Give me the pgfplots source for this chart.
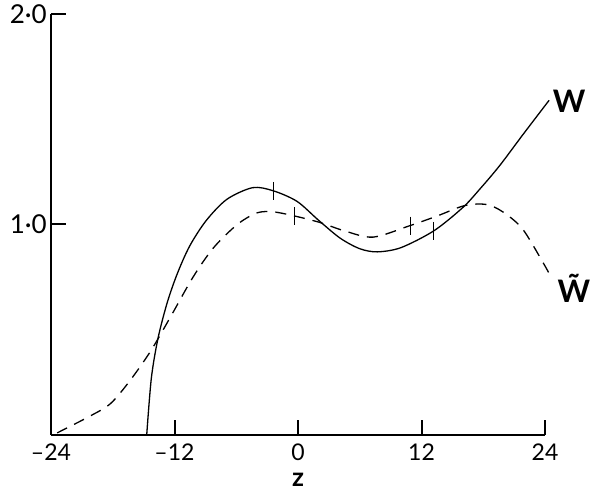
\documentclass[border=0pt]{standalone}
\usepackage{fontspec}
\setmainfont{Lato}
\usepackage{pgfplots}
\pgfplotsset{compat=1.18}
\begin{document}
\begin{tikzpicture}
\begin{axis}[
  at={(0,0)}, anchor=south west,
  scale only axis, width=494pt, height=421pt,
  xmin=-24, xmax=24, ymin=0, ymax=2,
  clip=false,
  axis x line=bottom, axis y line=left,
  axis line style={line width=2.2pt, -},
  xtick={-24,-12,0,12,24}, xticklabels={–24,–12,0,12,24},
  ytick={1,2}, yticklabels={1·0,2·0},
  tick align=inside,
  major tick length=15pt,
  tick style={line width=2pt, black},
  every tick label/.append style={inner sep=1pt},
  xticklabel style={font=\fontsize{23}{26}\selectfont, yshift=-8pt},
  yticklabel style={font=\fontsize{26}{30}\selectfont, xshift=-3pt},
]
% W flat part
\addplot[black, line width=1.3pt] coordinates {(-24,0) (-14.7,0)};
% W solid
\addplot[black, line width=1.3pt, smooth] coordinates {
(-14.7,0) (-14.25,0.27) (-13.6,0.46) (-12.7,0.63) (-11.7,0.77) (-10.5,0.90) (-8.9,1.02) (-6.9,1.12) (-4.4,1.175) (-2.4,1.16) (-0.1,1.11) (2.0,1.02) (4.1,0.935) (6.0,0.885) (7.7,0.87) (10.0,0.89) (13.2,0.97) (16.0,1.08) (17.7,1.17) (19.6,1.28) (21.9,1.43) (24.4,1.59)};
% W tilde dashed
\addplot[black, line width=1.3pt, smooth, dash pattern=on 11pt off 8pt] coordinates {
(-23.4,0.01) (-20.2,0.09) (-18.2,0.15) (-16.3,0.26) (-14.3,0.40) (-12.4,0.56) (-10.2,0.75) (-8.2,0.89) (-5.9,1.0) (-4.0,1.055) (-2.4,1.06) (-0.3,1.04) (2.1,1.01) (4.5,0.97) (7.3,0.94) (10.9,0.995) (13.5,1.04) (16.2,1.09) (18.3,1.095) (19.9,1.06) (21.8,0.98) (23.8,0.82) (24.7,0.74)};
% small vertical marks on curves
\addplot[only marks, mark=|, mark size=9pt, mark options={line width=1.1pt, black}] coordinates {
(-2.4,1.16) (13.2,0.97) (-0.3,1.04) (10.9,0.995)};
\node[anchor=base west, font=\fontsize{31}{34}\selectfont\bfseries, inner sep=0pt] at (axis cs:24.75,1.53) {W};
\node[anchor=base west, font=\fontsize{31}{34}\selectfont\bfseries, inner sep=0pt] at (axis cs:25.2,0.63) {\~{W}};
\node[font=\fontsize{26}{28}\selectfont\bfseries, inner sep=0pt] at (axis cs:0,0) [yshift=-45pt] {z};
\end{axis}
\pgfresetboundingbox
\path (-51pt,-59pt) rectangle (548pt,435pt);
\end{tikzpicture}
\end{document}
